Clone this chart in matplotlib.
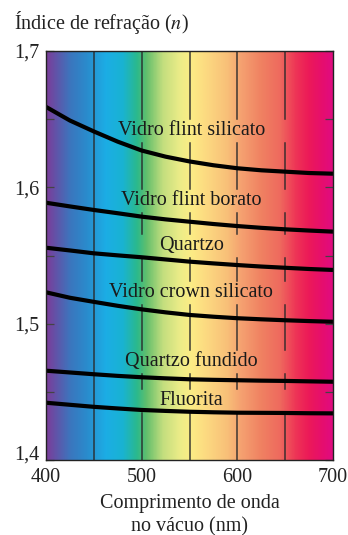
import matplotlib
matplotlib.use("Agg")
import matplotlib.pyplot as plt
import numpy as np
from matplotlib.colors import LinearSegmentedColormap

# ---------------- data ----------------
wavelengths = [400, 425, 450, 475, 500, 525, 550, 575, 600, 625, 650, 675, 700]
flint_silicato = [1.659, 1.649, 1.641, 1.6335, 1.627, 1.6225, 1.619, 1.6162, 1.614, 1.6125, 1.6115, 1.6105, 1.610]
flint_borato = [1.5887, 1.586, 1.5834, 1.581, 1.5785, 1.5765, 1.5748, 1.5731, 1.5716, 1.5703, 1.5692, 1.5683, 1.5675]
quartzo = [1.5557, 1.5537, 1.5516, 1.5501, 1.5487, 1.5471, 1.5455, 1.5442, 1.543, 1.5419, 1.541, 1.5401, 1.5394]
crown_silicato = [1.523, 1.519, 1.516, 1.5131, 1.5105, 1.5083, 1.5064, 1.5051, 1.504, 1.5032, 1.5025, 1.5019, 1.5014]
quartzo_fundido = [1.4655, 1.4642, 1.4629, 1.4617, 1.4607, 1.4599, 1.4592, 1.4588, 1.4585, 1.4582, 1.458, 1.4577, 1.4574]
fluorita = [1.442, 1.4405, 1.439, 1.4378, 1.4367, 1.436, 1.4354, 1.435, 1.4347, 1.4346, 1.4345, 1.4343, 1.4342]

series = [flint_silicato, flint_borato, quartzo, crown_silicato, quartzo_fundido, fluorita]
names = ["Vidro flint silicato", "Vidro flint borato", "Quartzo",
         "Vidro crown silicato", "Quartzo fundido", "Fluorita"]
label_x = [552, 552, 552, 552, 552, 552]
label_y = [1.642, 1.5907, 1.5577, 1.5225, 1.4722, 1.4433]

x_ticks = [400, 500, 600, 700]
x_ticklabels = ["400", "500", "600", "700"]
y_ticks = [1.4, 1.5, 1.6, 1.7]
y_ticklabels = ["1,4", "1,5", "1,6", "1,7"]
y_minor = [1.45, 1.55, 1.65]
grid_x = [450, 500, 550, 600, 650]

# spectrum colour stops (wavelength, colour)
spectrum_stops = [
    (400, "#7a3d9a"), (425, "#3b76be"), (442, "#2a8bcc"), (462, "#1cade5"),
    (480, "#19b3d2"), (495, "#2bb98c"), (505, "#62bf6c"), (522, "#c3de7e"),
    (540, "#ecec88"), (552, "#fcec85"), (570, "#fcd780"), (590, "#f8bf78"),
    (605, "#f5a070"), (625, "#f08262"), (645, "#ee6a5e"), (662, "#ee3456"),
    (675, "#ec1a58"), (690, "#e60e6e"), (700, "#e00c80"),
]

plt.rcParams["font.family"] = ["Liberation Serif", "DejaVu Serif"]
plt.rcParams["mathtext.fontset"] = "stix"
FS = 14.5

W, H = 348, 535
fig = plt.figure(figsize=(W / 100, H / 100), dpi=100)
ax = fig.add_axes([46 / W, (H - 460) / H, 287 / W, 409 / H])

xmin, xmax, ymin, ymax = 400, 700, 1.4, 1.7
ax.set_xlim(xmin, xmax)
ax.set_ylim(ymin, ymax)

# background spectrum
pos = [(w - xmin) / (xmax - xmin) for w, _ in spectrum_stops]
cmap = LinearSegmentedColormap.from_list("spec", list(zip(pos, [c for _, c in spectrum_stops])))
grad = np.linspace(0, 1, 600).reshape(1, -1)
ax.imshow(grad, cmap=cmap, extent=[xmin, xmax, ymin, ymax], aspect="auto",
          interpolation="bilinear", zorder=0)

# labels
texts = []
for nm, lx, ly in zip(names, label_x, label_y):
    t = ax.text(lx, ly, nm, fontsize=FS, ha="center", va="center", color="#1a1a1a", zorder=4)
    texts.append(t)

# curves
for s in series:
    ax.plot(wavelengths, s, color="black", lw=3.0, solid_capstyle="butt",
            solid_joinstyle="round", zorder=3)

# grid lines broken at label bands
fig.canvas.draw()
renderer = fig.canvas.get_renderer()
inv = ax.transData.inverted()
gaps = []
for t in texts:
    bb = t.get_window_extent(renderer)
    y0 = inv.transform((0, bb.y0 - 3))[1]
    y1 = inv.transform((0, bb.y1 + 2))[1]
    gaps.append((y0, y1))
gaps.sort()
for gx in grid_x:
    if gx == 450:
        ax.plot([gx, gx], [ymin, ymax], color="#2a2a2a", lw=1.1, alpha=0.9, zorder=2)
        continue
    start = ymin
    for g0, g1 in gaps:
        ax.plot([gx, gx], [start, g0], color="#2a2a2a", lw=1.1, alpha=0.9, zorder=2)
        start = g1
    ax.plot([gx, gx], [start, ymax], color="#2a2a2a", lw=1.1, alpha=0.9, zorder=2)

# ticks
ax.set_xticks(x_ticks)
ax.set_xticklabels(x_ticklabels, fontsize=FS)
ax.set_yticks(y_ticks)
ax.set_yticklabels(y_ticklabels, fontsize=FS)
ax.set_yticks(y_minor, minor=True)
ax.tick_params(axis="x", length=0, pad=6, colors="#222222")
ax.tick_params(axis="y", which="both", direction="in", length=6, width=0.9,
               left=True, right=True, pad=5, color="#444444", labelcolor="#222222")
for lab in ax.get_yticklabels():
    if lab.get_text() == "1,4":
        lab.set_verticalalignment("baseline")

for sp in ax.spines.values():
    sp.set_color("#222222")
    sp.set_linewidth(1.0)
    sp.set_zorder(5)

ax.set_xlabel("Comprimento de onda\nno vácuo (nm)", fontsize=FS, linespacing=1.25,
              color="#222222", labelpad=5)
fig.text(14 / W, 1 - 22 / H, "Índice de refração ($n$)", fontsize=FS,
         ha="left", va="center", color="#222222")

fig.savefig("out.png", dpi=100)
